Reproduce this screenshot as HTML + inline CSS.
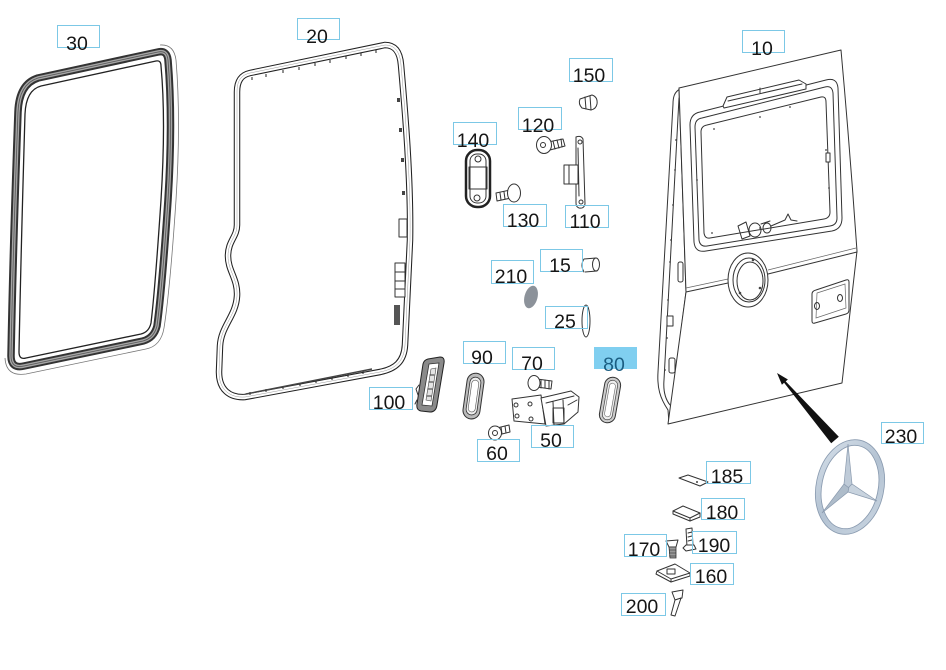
<!DOCTYPE html>
<html><head><meta charset="utf-8"><style>
html,body{margin:0;padding:0;background:#fff;}
svg{display:block;}
.lb{fill:none;stroke:#7cc8e6;stroke-width:1;}
.t{font-family:"Liberation Sans",Arial,sans-serif;font-size:19.5px;fill:#151515;text-anchor:middle;}
.o{fill:#fff;stroke:#333;stroke-width:1;stroke-linejoin:round;}
.l{fill:none;stroke:#333;stroke-width:1;stroke-linejoin:round;stroke-linecap:round;}
.lt{fill:none;stroke:#666;stroke-width:0.7;}
</style></head><body>
<svg width="946" height="670" viewBox="0 0 946 670" xmlns="http://www.w3.org/2000/svg">
<defs>
<linearGradient id="sg" x1="0" y1="0" x2="1" y2="1">
<stop offset="0" stop-color="#d4dee8"/><stop offset="0.5" stop-color="#b3c2d2"/><stop offset="1" stop-color="#c8d4e0"/>
</linearGradient>
</defs>
<rect width="946" height="670" fill="#fff"/>

<!-- ===== Seal 30 ===== -->
<path d="M 38,78 L 158,52 Q 167,50 168,60 Q 173,120 168,200 Q 162,290 157,326 Q 154,338 143,341 L 24,366 Q 11,369 11,356 Q 13,250 18,112 Q 19,84 38,78 Z" fill="none" stroke="#333" stroke-width="7.5"/>
<path d="M 38,78 L 158,52 Q 167,50 168,60 Q 173,120 168,200 Q 162,290 157,326 Q 154,338 143,341 L 24,366 Q 11,369 11,356 Q 13,250 18,112 Q 19,84 38,78 Z" fill="none" stroke="#a5a5a5" stroke-width="3.5"/>
<path d="M 38,78 L 158,52 Q 167,50 168,60 Q 173,120 168,200 Q 162,290 157,326 Q 154,338 143,341 L 24,366 Q 11,369 11,356 Q 13,250 18,112 Q 19,84 38,78 Z" fill="none" stroke="#555" stroke-width="0.8"/>
<path d="M 41,86 L 156,61 Q 161,60 161,66 Q 166,120 161,200 Q 155,290 151,323 Q 149,332 141,334 L 26,358 Q 19,360 19,352 Q 21,250 25,114 Q 26,90 41,86 Z" fill="none" stroke="#222" stroke-width="1.3"/>
<path d="M 160,45 Q 174,44 176,60 Q 181,120 176,200 Q 170,290 164,328 Q 161,346 146,349 L 26,374 Q 6,377 5,358" fill="none" stroke="#777" stroke-width="0.8"/>

<!-- ===== Seal 20 ===== -->
<path d="M 237,92 L 237,225 C 237,237 228,241 228,256 C 228,271 238,279 237,296 C 236,316 221,326 220,346 L 219,372 C 219,390 230,398 245,397 L 380,372 C 395,369 404,362 405,345 L 410,240 C 411,180 405,110 401,65 C 400,52 395,45 385,45 L 250,73 C 241,75 237,81 237,92 Z" fill="none" stroke="#222" stroke-width="6.5"/>
<path d="M 237,92 L 237,225 C 237,237 228,241 228,256 C 228,271 238,279 237,296 C 236,316 221,326 220,346 L 219,372 C 219,390 230,398 245,397 L 380,372 C 395,369 404,362 405,345 L 410,240 C 411,180 405,110 401,65 C 400,52 395,45 385,45 L 250,73 C 241,75 237,81 237,92 Z" fill="none" stroke="#fff" stroke-width="4.4"/>
<path d="M 237,92 L 237,225 C 237,237 228,241 228,256 C 228,271 238,279 237,296 C 236,316 221,326 220,346 L 219,372 C 219,390 230,398 245,397 L 380,372 C 395,369 404,362 405,345 L 410,240 C 411,180 405,110 401,65 C 400,52 395,45 385,45 L 250,73 C 241,75 237,81 237,92 Z" fill="none" stroke="#999" stroke-width="0.5"/>
<g stroke="#222" stroke-width="1">
<line x1="252" y1="77" x2="252" y2="80"/><line x1="266" y1="74" x2="266" y2="77"/><line x1="283" y1="70" x2="283" y2="73"/><line x1="299" y1="67" x2="299" y2="70"/><line x1="315" y1="63" x2="315" y2="66"/><line x1="330" y1="60" x2="330" y2="63"/><line x1="346" y1="56" x2="346" y2="59"/><line x1="361" y1="53" x2="361" y2="56"/><line x1="376" y1="50" x2="376" y2="53"/>
<line x1="250" y1="392" x2="250" y2="395"/><line x1="266" y1="389" x2="266" y2="392"/><line x1="283" y1="386" x2="283" y2="389"/><line x1="300" y1="383" x2="300" y2="386"/><line x1="316" y1="380" x2="316" y2="383"/><line x1="332" y1="377" x2="332" y2="380"/><line x1="348" y1="374" x2="348" y2="377"/><line x1="363" y1="371" x2="363" y2="374"/>
</g>
<path d="M 246,394 L 372,369" stroke="#444" stroke-width="1.5"/>
<g fill="#444">
<rect x="397" y="98" width="3" height="4"/><rect x="399" y="128" width="3" height="4"/><rect x="401" y="158" width="3" height="4"/><rect x="402" y="191" width="3" height="4"/>
</g>
<rect x="399" y="219" width="8" height="18" class="o" stroke-width="1"/>
<rect x="395" y="263" width="10" height="34" class="o"/>
<line x1="395" y1="272" x2="405" y2="272" class="l"/><line x1="395" y1="281" x2="405" y2="281" class="l"/><line x1="395" y1="289" x2="405" y2="289" class="l"/>
<rect x="394" y="305" width="6" height="20" fill="#555"/>

<!-- ===== Door 10 ===== -->
<path d="M 680,89 C 674,92 673,98 673,104 L 658,372 C 657,388 660,398 668,410 L 669,423 L 686,292 L 679,88 Z" class="o"/>
<path d="M 679,98 L 664,380 C 663,392 666,400 670,405" class="l" stroke-width="0.8"/>
<path d="M 679,88 L 841,50 Q 850,150 857,251 L 842,383 L 668,424 L 686,292 Z" class="o"/>
<path d="M 686,292 L 728,283" class="l"/><path d="M 686,288 L 728,279" class="lt"/>
<path d="M 768,274 L 857,252" class="l"/><path d="M 768,270 L 856,248" class="lt"/>
<path d="M 700,112 L 826,80 Q 837,77 838,88 L 842,218 Q 842,229 832,231 L 706,251 Q 695,253 694,242 L 690,125 Q 690,114 700,112 Z" class="o"/>
<path d="M 702,118 L 825,87 Q 832,85 833,93 L 837,218 Q 837,225 830,226 L 707,246 Q 700,247 699,240 L 695,127 Q 695,119 702,118 Z" class="l" stroke-width="0.8"/>
<path d="M 707,125 L 821,97 Q 826,96 826,102 L 830,212 Q 830,218 824,219 L 710,238 Q 705,239 704,233 L 701,132 Q 701,126 707,125 Z" class="l" stroke-width="1.2"/>
<path d="M 723,106 L 727,97 L 799,80 L 806,84 L 806,89 L 724,108 Z" class="o"/>
<path d="M 728,101 L 802,84" class="l" stroke-width="0.8"/>
<path d="M 760,93 L 760,88" class="l"/>
<g class="l" stroke-width="1">
<path d="M 738,226 L 746,222 L 750,236 L 742,239 Z"/>
<ellipse cx="755" cy="230" rx="6" ry="7"/>
<ellipse cx="767" cy="228" rx="4" ry="5"/>
<path d="M 771,226 L 785,220 L 788,214 L 791,220 L 797,221"/>
<path d="M 761,224 L 770,221"/>
</g>
<g fill="#444">
<circle cx="714" cy="129" r="0.9"/><circle cx="760" cy="117" r="0.9"/><circle cx="790" cy="107" r="0.9"/><circle cx="826" cy="150" r="0.9"/><circle cx="829" cy="188" r="0.9"/><circle cx="712" cy="233" r="0.9"/><circle cx="760" cy="228" r="0.9"/><circle cx="697" cy="180" r="0.9"/>
<circle cx="676" cy="140" r="0.9"/><circle cx="675" cy="170" r="0.9"/><circle cx="673" cy="205" r="0.9"/><circle cx="671" cy="240" r="0.9"/><circle cx="670" cy="262" r="0.9"/><circle cx="668" cy="300" r="0.9"/><circle cx="667" cy="338" r="0.9"/><circle cx="665" cy="370" r="0.9"/>
</g>
<rect x="826" y="153" width="4" height="9" class="o"/>
<rect x="678" y="262" width="5" height="20" rx="2" class="o"/>
<rect x="667" y="316" width="6" height="10" class="o"/>
<rect x="669" y="358" width="6" height="15" rx="2" class="o"/>
<ellipse cx="748" cy="280" rx="20" ry="27" class="o" stroke-width="1.1"/>
<ellipse cx="749" cy="280" rx="16" ry="22" class="l" stroke-width="0.9"/>
<ellipse cx="750" cy="281" rx="13" ry="19" class="l" stroke-width="0.6"/>
<circle cx="753" cy="260" r="1.3" fill="#444"/><circle cx="740" cy="293" r="1.3" fill="#444"/><circle cx="760" cy="288" r="1.3" fill="#444"/>
<path d="M 816,290 L 846,280 Q 849,279 849,282 L 849,310 Q 849,313 846,314 L 815,323 Q 812,324 812,321 L 812,294 Q 812,291 816,290 Z" class="o"/>
<path d="M 817,293 L 845,284 L 846,308 L 816,318 Z" class="lt"/>
<ellipse cx="817" cy="306" rx="2.5" ry="3.5" class="l"/>
<ellipse cx="840" cy="298" rx="2.5" ry="3.5" class="l"/>

<polygon points="777,373 787.9,379.5 785.7,381.4 838.8,436.7 831.2,443.3 784.1,382.8 781.9,384.7" fill="#111"/>

<!-- ===== Star 230 ===== -->
<g transform="rotate(12 850 487)">
<ellipse cx="850" cy="487" rx="31" ry="45" fill="none" stroke="#8a9bb0" stroke-width="6.5"/>
<ellipse cx="850" cy="487" rx="31" ry="45" fill="none" stroke="url(#sg)" stroke-width="4.8"/>
</g>
<polygon points="848,444 852,484 848,488 844,484" fill="#bfcbd8" stroke="#8a9aae" stroke-width="0.7"/>
<polygon points="822,513 844,484 849,488 848,492" fill="#aebcca" stroke="#8a9aae" stroke-width="0.7"/>
<polygon points="877,501 848,492 849,487 852,484" fill="#c8d3de" stroke="#8a9aae" stroke-width="0.7"/>

<!-- ===== small parts ===== -->
<path d="M 580,99 L 592,95 Q 598,97 597,104 Q 596,109 591,110 L 582,108 Q 578,104 580,99 Z" class="o"/>
<path d="M 585,97 L 586,109 M 590,96 L 591,110" class="l" stroke-width="0.7"/>
<path d="M 548,142 L 563,139 L 565,146 L 550,150 Z" class="o"/>
<path d="M 553,141 L 555,149 M 557,140 L 559,148 M 561,139 L 562,147" class="l" stroke-width="0.6"/>
<ellipse cx="544" cy="145" rx="7.5" ry="8.5" class="o" stroke-width="1.2"/>
<circle cx="543" cy="145" r="2.5" class="l"/>
<rect x="466" y="150" width="24" height="57" rx="11" fill="#fff" stroke="#222" stroke-width="2.5"/>
<rect x="470" y="154" width="16" height="49" rx="7" class="l" stroke-width="0.9"/>
<rect x="469" y="167" width="18" height="22" class="l" stroke-width="1"/>
<circle cx="478" cy="159" r="3" class="l"/>
<circle cx="477" cy="198" r="3" class="l"/>
<path d="M 496,193 L 510,190 L 511,198 L 497,201 Z" class="o"/>
<path d="M 500,193 L 501,200 M 504,192 L 505,199 M 508,191 L 509,198" class="l" stroke-width="0.6"/>
<ellipse cx="514" cy="193" rx="6.5" ry="9" class="o" stroke-width="1.1"/>
<path d="M 576,137 Q 581,135 583,139 L 585,204 Q 584,209 579,208 Q 576,207 576,203 Z" class="o"/>
<path d="M 578,148 L 579,196" class="l" stroke-width="0.7"/>
<circle cx="580" cy="142" r="2" class="l"/><circle cx="581" cy="202" r="2" class="l"/>
<rect x="564" y="165" width="14" height="19" class="o"/>
<line x1="569" y1="165" x2="569" y2="184" class="l" stroke-width="0.7"/>
<path d="M 584,259 L 596,258 L 597,271 L 585,272" class="o"/>
<ellipse cx="596" cy="264.5" rx="3.5" ry="6.5" class="o"/>
<path d="M 584,259 Q 580,265 584,272" class="l"/>
<ellipse cx="531" cy="297" rx="6.5" ry="11.5" transform="rotate(15 531 297)" fill="#8c929a"/>
<ellipse cx="586" cy="321" rx="4" ry="16" class="l" stroke-width="1.1"/>
<g transform="rotate(8 473 396)">
<rect x="465" y="373" width="17" height="46" rx="8.5" fill="#bbb" stroke="#333" stroke-width="1"/>
<rect x="468" y="377" width="11" height="38" rx="5.5" fill="#eee" stroke="#333" stroke-width="0.8"/>
<rect x="470" y="380" width="7" height="32" rx="3.5" fill="#fff" stroke="#555" stroke-width="0.6"/>
</g>
<path d="M 428,359 L 440,357 Q 445,357 444,363 L 437,405 Q 436,412 430,412 L 421,411 Q 416,410 417,404 L 423,364 Q 424,360 428,359 Z" fill="#8a8a8a" stroke="#222" stroke-width="1"/>
<path d="M 429,364 L 439,363 L 432,406 L 422,405 Z" fill="#fff" stroke="#333" stroke-width="0.8"/>
<path d="M 431,369 L 436,368 L 431,401 L 426,400 Z" fill="#e4e4e4" stroke="#444" stroke-width="0.6"/>
<path d="M 430,375 L 434,375 M 429,382 L 433,382 M 428,389 L 432,389 M 427,396 L 431,396" class="l" stroke-width="0.5"/>
<path d="M 419,385 L 416,389 L 418,395 M 417,400 L 415,404" class="l"/>
<path d="M 537,379 L 552,381 L 551,389 L 537,387 Z" class="o"/>
<path d="M 541,380 L 541,388 M 545,380 L 545,388 M 549,381 L 549,389" class="l" stroke-width="0.6"/>
<ellipse cx="534" cy="383" rx="6" ry="7.5" class="o" stroke-width="1.1"/>
<path d="M 512,399 L 541,395 L 545,424 L 514,421 Z" class="o"/>
<circle cx="516" cy="405" r="2" class="l"/><circle cx="530" cy="404" r="2" class="l"/><circle cx="517" cy="416" r="2" class="l"/><circle cx="531" cy="419" r="2" class="l"/>
<path d="M 541,398 L 571,391 L 579,397 L 578,412 L 564,424 L 546,426 Z" class="o"/>
<path d="M 546,403 L 574,396 M 553,402 L 554,425 M 563,400 L 564,424 M 568,405 L 577,400" class="l" stroke-width="0.8"/>
<rect x="553" y="408" width="11" height="15" class="l" stroke-width="0.9"/>
<path d="M 497,428 L 509,425 L 510,432 L 498,435 Z" class="o"/>
<path d="M 501,427 L 502,434 M 505,426 L 506,433" class="l" stroke-width="0.6"/>
<ellipse cx="495" cy="433" rx="6.5" ry="7" class="o" stroke-width="1.2"/>
<circle cx="495" cy="433" r="2.5" class="l"/>
<g transform="rotate(10 610 400)">
<rect x="602" y="377" width="16" height="46" rx="8" fill="#ccc" stroke="#333" stroke-width="1"/>
<rect x="605" y="380" width="10" height="40" rx="5" fill="#eee" stroke="#444" stroke-width="0.7"/>
<rect x="607" y="383" width="6" height="34" rx="3" fill="#fff" stroke="#666" stroke-width="0.6"/>
</g>
<path d="M 679,478 L 688,475 L 708,482 L 700,486 Z" class="o"/>
<circle cx="697" cy="482" r="1" fill="#444"/>
<path d="M 673,511 L 683,506 L 700,513 L 700,517 L 690,521 L 673,514 Z" class="o"/>
<path d="M 673,511 L 690,518 L 700,513 M 690,518 L 690,521" class="l" stroke-width="0.8"/>
<path d="M 686,529 L 692,528 L 693,546 L 687,547 Z" class="o"/>
<path d="M 683,548 L 686,545 L 694,545 L 696,549 L 686,551 Z" class="o"/>
<path d="M 688,533 L 692,532 M 688,537 L 692,536 M 688,541 L 692,540" class="l" stroke-width="0.6"/>
<path d="M 666,541 L 678,540 L 676,547 L 669,547 Z" class="o"/>
<path d="M 669,547 L 676,547 L 676,558 L 670,558 Z" fill="#999" stroke="#333" stroke-width="0.8"/>
<path d="M 669,550 L 676,550 M 669,553 L 676,553 M 669,556 L 676,556" stroke="#222" stroke-width="0.6"/>
<path d="M 657,571 L 675,564 L 690,573 L 690,576 L 671,582 L 656,574 Z" class="o"/>
<path d="M 657,571 L 671,579 L 690,573 M 671,579 L 671,582" class="l" stroke-width="0.8"/>
<rect x="667" y="569" width="8" height="5" class="l" stroke-width="0.7"/>
<path d="M 672,592 L 683,590 L 682,598 L 675,600 Z" class="o"/>
<path d="M 675,600 L 681,598 L 675,616 L 671,615 Z" class="o"/>

<!-- ===== Labels ===== -->
<g>
<rect x="57.5" y="25.5" width="42" height="22" class="lb"/><text x="77" y="50" class="t">30</text>
<rect x="297.5" y="18.5" width="42" height="21" class="lb"/><text x="317" y="43" class="t">20</text>
<rect x="742.5" y="30.5" width="42" height="22" class="lb"/><text x="762" y="55" class="t">10</text>
<rect x="569.5" y="58.5" width="43" height="23" class="lb"/><text x="589" y="82" class="t">150</text>
<rect x="518.5" y="107.5" width="43" height="22" class="lb"/><text x="538" y="132" class="t">120</text>
<rect x="453.5" y="122.5" width="43" height="22" class="lb"/><text x="473" y="147" class="t">140</text>
<rect x="503.5" y="204.5" width="43" height="22" class="lb"/><text x="523" y="227" class="t">130</text>
<rect x="565.5" y="205.5" width="43" height="22" class="lb"/><text x="585" y="228" class="t">110</text>
<rect x="540.5" y="249.5" width="42" height="22" class="lb"/><text x="560" y="272" class="t">15</text>
<rect x="491.5" y="260.5" width="42" height="23" class="lb"/><text x="511" y="283" class="t">210</text>
<rect x="545.5" y="306.5" width="42" height="22" class="lb"/><text x="565" y="328" class="t">25</text>
<rect x="463.5" y="341.5" width="42" height="22" class="lb"/><text x="482" y="364" class="t">90</text>
<rect x="512.5" y="347.5" width="42" height="22" class="lb"/><text x="532" y="370" class="t">70</text>
<rect x="594" y="347" width="43" height="22" fill="#80cff0"/><text x="614" y="371" class="t" style="fill:#1b5e82">80</text>
<rect x="369.5" y="387.5" width="43" height="22" class="lb"/><text x="389" y="409" class="t">100</text>
<rect x="531.5" y="425.5" width="42" height="22" class="lb"/><text x="551" y="447" class="t">50</text>
<rect x="477.5" y="439.5" width="42" height="22" class="lb"/><text x="497" y="460" class="t">60</text>
<rect x="881.5" y="422.5" width="42" height="21" class="lb"/><text x="901" y="443" class="t">230</text>
<rect x="706.5" y="461.5" width="44" height="22" class="lb"/><text x="727" y="483" class="t">185</text>
<rect x="701.5" y="498.5" width="43" height="21" class="lb"/><text x="722" y="519" class="t">180</text>
<rect x="692.5" y="531.5" width="44" height="22" class="lb"/><text x="714" y="552" class="t">190</text>
<rect x="624.5" y="534.5" width="42" height="22" class="lb"/><text x="644" y="556" class="t">170</text>
<rect x="690.5" y="563.5" width="43" height="21" class="lb"/><text x="711" y="583" class="t">160</text>
<rect x="621.5" y="593.5" width="44" height="22" class="lb"/><text x="642" y="613" class="t">200</text>
</g>
</svg>
</body></html>
